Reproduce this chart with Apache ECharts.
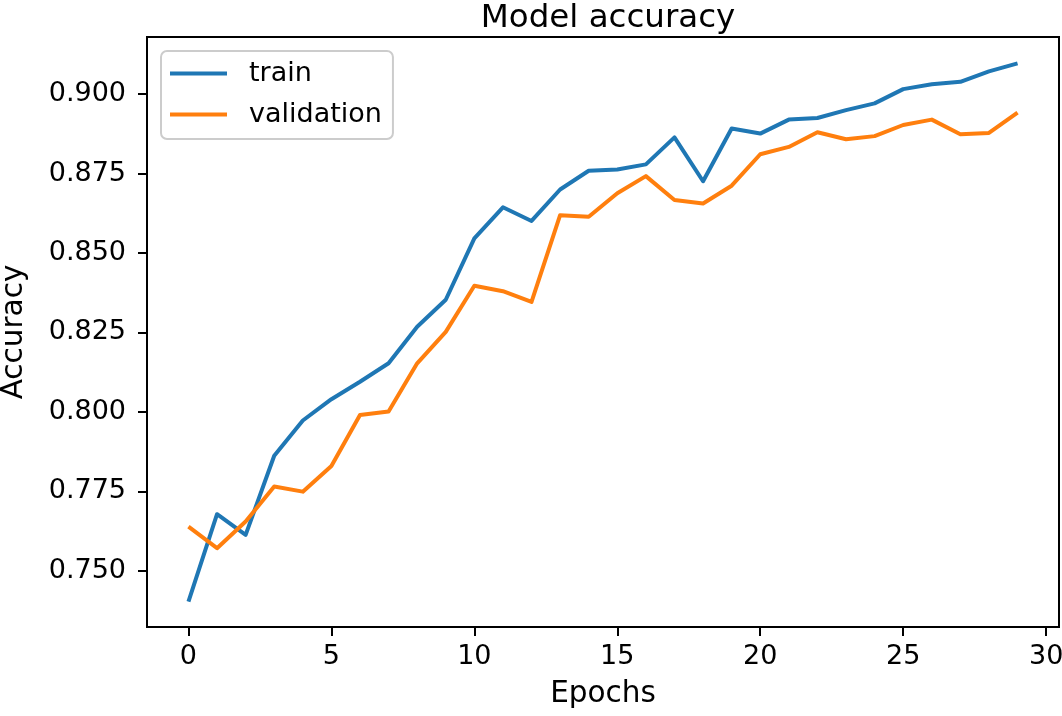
<!DOCTYPE html>
<html>
<head>
<meta charset="utf-8">
<script src="https://cdn.jsdelivr.net/npm/echarts@6/dist/echarts.min.js"></script>
<style>
  html, body { margin: 0; padding: 0; background: #ffffff; }
  #chart { width: 1062px; height: 716px; }
</style>
</head>
<body>
<div id="chart"></div>
<script>
const epochs = [0,1,2,3,4,5,6,7,8,9,10,11,12,13,14,15,16,17,18,19,20,21,22,23,24,25,26,27,28,29];
const trainAcc = [0.7403,0.7678,0.7613,0.7862,0.7973,0.8040,0.8095,0.8153,0.8268,0.8353,
                  0.8546,0.8644,0.8601,0.8700,0.8759,0.8763,0.8779,0.8864,0.8726,0.8892,
                  0.8876,0.8920,0.8925,0.8950,0.8971,0.9016,0.9031,0.9039,0.9072,0.9097];
const valAcc = [0.7639,0.7571,0.7655,0.7765,0.7749,0.7830,0.7990,0.8001,0.8153,0.8252,
                0.8397,0.8380,0.8346,0.8619,0.8614,0.8688,0.8742,0.8667,0.8656,0.8712,
                0.8811,0.8834,0.8880,0.8858,0.8868,0.8903,0.8920,0.8874,0.8878,0.8942];
const xTicks = [0,5,10,15,20,25,30];
const yTicks = [0.750,0.775,0.800,0.825,0.850,0.875,0.900];
const seriesNames = ['train','validation'];
const titleText = 'Model accuracy';
const xName = 'Epochs';
const yName = 'Accuracy';

const FONT = 'DejaVu Sans';
const chart = echarts.init(document.getElementById('chart'), null, {renderer: 'canvas'});

function pairs(ys) { return epochs.map((e, i) => [e, ys[i]]); }

const option = {
  animation: false,
  backgroundColor: '#ffffff',
  title: {
    text: titleText,
    left: 603, textAlign: 'center',
    top: -3,
    textStyle: { fontFamily: FONT, fontSize: 32.5, fontWeight: 'normal', color: '#000' }
  },
  grid: {
    left: 147, top: 37, right: 3, bottom: 89,
    outerBoundsMode: 'none', containLabel: false,
    show: true, borderColor: '#000', borderWidth: 2, backgroundColor: 'transparent'
  },
  legend: {
    data: seriesNames,
    orient: 'vertical',
    left: 161, top: 51,
    padding: [9, 11, 11, 9],
    itemGap: 14,
    itemWidth: 57, itemHeight: 4,
    icon: 'path://M0,0L57,0L57,4L0,4Z',
    backgroundColor: '#ffffff',
    borderColor: '#cccccc', borderWidth: 2, borderRadius: 6,
    textStyle: { fontFamily: FONT, fontSize: 27, color: '#000', padding: [0, 0, 0, 17], lineHeight: 27 }
  },
  xAxis: {
    type: 'value', min: -1.45, max: 30.45,
    name: xName, nameLocation: 'middle', nameGap: 52,
    nameTextStyle: { fontFamily: FONT, fontSize: 29.5, color: '#000' },
    splitLine: { show: false },
    axisLine: { show: true, onZero: false, lineStyle: { color: '#000', width: 2 } },
    axisTick: { show: true, inside: false, length: 9, lineStyle: { color: '#000', width: 2 }, customValues: xTicks },
    axisLabel: { customValues: xTicks, margin: 16, fontFamily: FONT, fontSize: 27, color: '#000',
                 formatter: v => String(v) }
  },
  yAxis: {
    type: 'value', min: 0.7323, max: 0.9180,
    name: yName, nameLocation: 'middle', nameGap: 118, nameRotate: 90,
    nameTextStyle: { fontFamily: FONT, fontSize: 29.5, color: '#000' },
    splitLine: { show: false },
    axisLine: { show: true, onZero: false, lineStyle: { color: '#000', width: 2 } },
    axisTick: { show: true, inside: false, length: 9, lineStyle: { color: '#000', width: 2 }, customValues: yTicks },
    axisLabel: { customValues: yTicks, margin: 21, fontFamily: FONT, fontSize: 27, color: '#000',
                 formatter: v => v.toFixed(3) }
  },
  series: [
    {
      name: seriesNames[0], type: 'line', data: pairs(trainAcc),
      symbol: 'none', color: '#1f77b4',
      lineStyle: { color: '#1f77b4', width: 4, join: 'round', cap: 'butt' }
    },
    {
      name: seriesNames[1], type: 'line', data: pairs(valAcc),
      symbol: 'none', color: '#ff7f0e',
      lineStyle: { color: '#ff7f0e', width: 4, join: 'round', cap: 'butt' }
    }
  ]
};
chart.setOption(option);
</script>
</body>
</html>
